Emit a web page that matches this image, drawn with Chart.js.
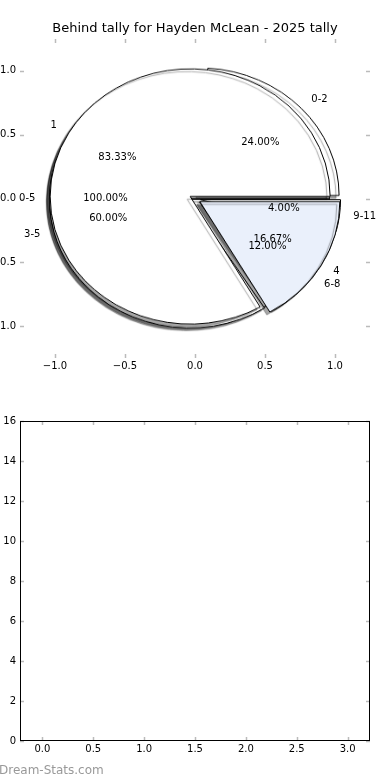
<!DOCTYPE html>
<html>
<head>
<meta charset="utf-8">
<script src="https://cdn.jsdelivr.net/npm/chart.js@4.4.0/dist/chart.umd.min.js"></script>
<style>
  html, body { margin: 0; padding: 0; background: #fff; }
  body { width: 390px; height: 780px; position: relative; overflow: hidden; font-family: 'DejaVu Sans', sans-serif; }
  canvas { position: absolute; }
  #watermark { position: absolute; left: -1px; top: 763px; font-size: 12px; color: #999; }
</style>
</head>
<body>
<canvas id="pieA"></canvas>
<canvas id="pieC"></canvas>
<canvas id="pieB"></canvas>
<canvas id="pieAxes" width="406" height="378" style="left:-16px;top:0px"></canvas>
<canvas id="barChart" width="406" height="361" style="left:-16px;top:400px"></canvas>
<div id="watermark">Dream-Stats.com</div>
<script>
/* Behind tally - three overlapping pies (matplotlib style) + empty tally axes */

const chartTitle = 'Behind tally for Hayden McLean - 2025 tally';

// pies, in matplotlib order (counter-clockwise from 3 o'clock)
const pieALabels = ['0-5'];
const pieAValues = [6];
const pieAColors = ['#ffffff'];

const pieBLabels = ['1', '4'];
const pieBValues = [5, 1];
const pieBColors = ['#ffffff', '#eaf0fb'];

const pieCLabels = ['0-2', '3-5', '6-8', '9-11'];
const pieCValues = [6, 15, 3, 1];
const pieCColors = ['#ffffff', '#ffffff', '#ffffff', '#ffffff'];

const explode = 0.04;

// axes around the pies
const pieXTicks = [-1.0, -0.5, 0.0, 0.5, 1.0];
const pieYTicks = [-1.0, -0.5, 0.0, 0.5, 1.0];

// lower (empty) tally chart
const tallyPoints = [];
const tallyXTicks = [0, 0.5, 1.0, 1.5, 2.0, 2.5, 3.0];
const tallyYTicks = [0, 2, 4, 6, 8, 10, 12, 14, 16];

Chart.defaults.font.family = "'DejaVu Sans', sans-serif";
Chart.defaults.font.size = 10;
Chart.defaults.color = '#000';

const fmt1 = v => (v < 0 ? '\u2212' : '') + Math.abs(v).toFixed(1);

/* matplotlib-ish inward ticks on all four sides, optional black frame */
const mplTicks = {
  id: 'mplTicks',
  afterDraw(chart, args, opts) {
    const { ctx, chartArea: a, scales } = chart;
    const len = 4;
    ctx.save();
    ctx.strokeStyle = '#bbb';
    ctx.lineWidth = 1.5;
    ctx.beginPath();
    scales.x.ticks.forEach(t => {
      const px = Math.round(scales.x.getPixelForValue(t.value)) + 0.5;
      ctx.moveTo(px, a.top); ctx.lineTo(px, a.top + len);
      ctx.moveTo(px, a.bottom); ctx.lineTo(px, a.bottom - len);
    });
    scales.y.ticks.forEach(t => {
      const py = Math.round(scales.y.getPixelForValue(t.value)) + 0.5;
      ctx.moveTo(a.left, py); ctx.lineTo(a.left + len, py);
      ctx.moveTo(a.right, py); ctx.lineTo(a.right - len, py);
    });
    ctx.stroke();
    if (opts.frame) {
      ctx.strokeStyle = '#000';
      ctx.lineWidth = 1;
      ctx.strokeRect(a.left + 0.5, a.top + 0.5, a.right - a.left - 1, a.bottom - a.top - 1);
    }
    ctx.restore();
  }
};

const pies = [
  { id: 'pieA', labels: pieALabels, values: pieAValues, colors: pieAColors },
  { id: 'pieC', labels: pieCLabels, values: pieCValues, colors: pieCColors },
  { id: 'pieB', labels: pieBLabels, values: pieBValues, colors: pieBColors }
];

/* slice labels (1.1 r) and percentages (0.6 r), placed with the axes scales */
const pieLabels = {
  id: 'pieLabels',
  afterDraw(chart) {
    const { ctx, scales: { x, y } } = chart;
    ctx.save();
    ctx.font = "10px 'DejaVu Sans'";
    ctx.fillStyle = '#000';
    ctx.textBaseline = 'middle';
    pies.forEach(p => {
      const total = p.values.reduce((s, v) => s + v, 0);
      let start = 0;
      p.values.forEach((v, i) => {
        const frac = v / total;
        const mid = 2 * Math.PI * (start + frac / 2);
        start += frac;
        const lx = (explode + 1.1) * Math.cos(mid), ly = (explode + 1.1) * Math.sin(mid);
        ctx.textAlign = lx > 0 ? 'left' : 'right';
        ctx.fillText(p.labels[i], x.getPixelForValue(lx), y.getPixelForValue(ly));
        const px = (explode + 0.6) * Math.cos(mid), py = (explode + 0.6) * Math.sin(mid);
        ctx.textAlign = 'center';
        ctx.fillText((frac * 100).toFixed(2) + '%', x.getPixelForValue(px), y.getPixelForValue(py));
      });
    });
    ctx.restore();
  }
};

const axesCanvas = document.getElementById('pieAxes');
const axesChart = new Chart(axesCanvas, {
  type: 'scatter',
  data: { datasets: [] },
  options: {
    responsive: false,
    animation: false,
    events: [],
    layout: { padding: { right: 20 } },
    plugins: {
      legend: { display: false },
      tooltip: { enabled: false },
      title: {
        display: true, text: chartTitle, fullSize: false, color: '#000',
        font: { size: 13, weight: 'normal', lineHeight: 1.2 }, padding: { top: 21, bottom: 2.4 }
      },
      mplTicks: { frame: false }
    },
    scales: {
      x: {
        type: 'linear', min: -1.25, max: 1.25,
        afterBuildTicks: s => { s.ticks = pieXTicks.map(v => ({ value: v })); },
        afterFit: s => { s.height = 20; },
        grid: { display: false, drawTicks: false }, border: { display: false },
        ticks: { padding: 2, autoSkip: false, maxRotation: 0, callback: fmt1 }
      },
      y: {
        type: 'linear', min: -1.25, max: 1.25,
        afterBuildTicks: s => { s.ticks = pieYTicks.map(v => ({ value: v })); },
        afterFit: s => { s.width = 36; },
        grid: { display: false, drawTicks: false }, border: { display: false },
        ticks: { padding: 4, autoSkip: false, callback: fmt1 }
      }
    }
  },
  plugins: [mplTicks, pieLabels]
});

/* pies: explode along each slice's mid angle + grey drop shadow */
const explodeShadow = {
  id: 'explodeShadow',
  afterDatasetsUpdate(chart, args, opts) {
    chart.getDatasetMeta(0).data.forEach(arc => {
      const mid = (arc.startAngle + arc.endAngle) / 2;
      const d = opts.explode * arc.outerRadius;
      arc.x += Math.cos(mid) * d;
      arc.y += Math.sin(mid) * d;
    });
  },
  beforeDatasetsDraw(chart) {
    const c = chart.ctx;
    c.save();
    c.shadowColor = 'rgba(0,0,0,0.35)';
    c.shadowOffsetX = -3;
    c.shadowOffsetY = 3;
    c.shadowBlur = 1;
  },
  afterDatasetsDraw(chart) {
    chart.ctx.restore();
  }
};

// pie centre and radii come from the axes scales
const sx = axesChart.scales.x, sy = axesChart.scales.y;
const cx = axesCanvas.offsetLeft + sx.getPixelForValue(0);
const cy = axesCanvas.offsetTop + sy.getPixelForValue(0);
const rx = sx.getPixelForValue(1) - sx.getPixelForValue(0);
const ry = sy.getPixelForValue(0) - sy.getPixelForValue(1);

pies.forEach(p => {
  const canvas = document.getElementById(p.id);
  const side = Math.ceil(rx * 2.3);
  canvas.width = side;
  canvas.height = side;
  canvas.style.left = (cx - side / 2) + 'px';
  canvas.style.top = (cy - side / 2) + 'px';
  canvas.style.transform = 'scaleY(' + (ry / rx) + ')';
  new Chart(canvas, {
    type: 'pie',
    data: {
      // Chart.js runs clockwise, so reverse to mimic matplotlib's counter-clockwise order
      labels: p.labels.slice().reverse(),
      datasets: [{
        data: p.values.slice().reverse(),
        backgroundColor: p.colors.slice().reverse(),
        borderColor: '#000',
        borderWidth: 1
      }]
    },
    options: {
      responsive: false,
      animation: false,
      events: [],
      rotation: 90,
      radius: rx,
      plugins: {
        legend: { display: false },
        tooltip: { enabled: false },
        explodeShadow: { explode: explode }
      }
    },
    plugins: [explodeShadow]
  });
});

/* lower chart: empty tally axes */
new Chart(document.getElementById('barChart'), {
  type: 'scatter',
  data: { datasets: [{ label: 'tally', data: tallyPoints, pointRadius: 0 }] },
  options: {
    responsive: false,
    animation: false,
    events: [],
    layout: { padding: { top: 21, right: 20 } },
    plugins: {
      legend: { display: false },
      tooltip: { enabled: false },
      mplTicks: { frame: true }
    },
    scales: {
      x: {
        type: 'linear', min: -0.22, max: 3.22,
        afterBuildTicks: s => { s.ticks = tallyXTicks.map(v => ({ value: v })); },
        afterFit: s => { s.height = 20; },
        grid: { display: false, drawTicks: false }, border: { display: false },
        ticks: { padding: 2, autoSkip: false, maxRotation: 0, callback: fmt1 }
      },
      y: {
        type: 'linear', min: 0, max: 16,
        afterBuildTicks: s => { s.ticks = tallyYTicks.map(v => ({ value: v })); },
        afterFit: s => { s.width = 36; },
        grid: { display: false, drawTicks: false }, border: { display: false },
        ticks: { padding: 4, autoSkip: false, callback: v => String(v) }
      }
    }
  },
  plugins: [mplTicks]
});
</script>
</body>
</html>
